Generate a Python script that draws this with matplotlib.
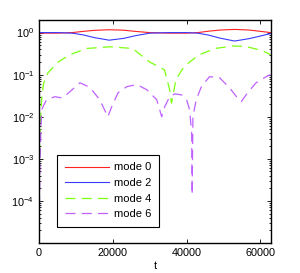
import matplotlib

matplotlib.use("Agg")
import matplotlib.pyplot as plt
from matplotlib.ticker import LogLocator, NullFormatter

plt.rcParams["font.family"] = ["Liberation Sans", "DejaVu Sans"]
plt.rcParams["mathtext.fontset"] = "custom"
plt.rcParams["mathtext.rm"] = "Liberation Sans"

# mode 0 / mode 2 share a time grid
t_low = [0, 5000, 9000, 12000, 15000, 19000, 23000, 26000, 30000, 35000,
         40000, 43000, 46000, 49000, 53000, 57000, 60000, 62832]
mode0 = [0.97, 0.97, 1.0, 1.07, 1.13, 1.17, 1.14, 1.07, 1.0, 0.97,
         0.97, 1.0, 1.08, 1.15, 1.19, 1.15, 1.07, 1.0]
mode2 = [1.0, 1.0, 0.97, 0.88, 0.76, 0.66, 0.73, 0.84, 0.97, 1.0,
         1.0, 0.97, 0.87, 0.74, 0.63, 0.72, 0.83, 0.95]

t4 = [0, 270, 700, 1200, 2400, 5200, 8400, 13000, 19200, 25300, 30000,
      34000, 35400, 35900, 37100, 38700, 40800, 43500, 47800, 52400,
      56000, 60600, 62700]
mode4 = [5e-4, 0.004, 0.025, 0.06, 0.11, 0.2, 0.3, 0.42, 0.46, 0.42, 0.2,
         0.13, 0.044, 0.021, 0.076, 0.13, 0.2, 0.3, 0.42, 0.48,
         0.47, 0.37, 0.3]

t6 = [0, 135, 270, 700, 2000, 4300, 6200, 7000, 11100, 13800, 16500,
      18650, 19700, 21400, 23800, 26500, 29200, 31900, 33250, 34060,
      35400, 36760, 38650, 40000, 40800, 41360, 41500, 41700, 42600,
      44000, 46200, 48900, 51600, 53500, 54800, 56500, 58800, 61550, 62700]
mode6 = [5e-6, 1e-4, 1e-3, 0.0147, 0.025, 0.030, 0.028, 0.031, 0.064,
         0.05, 0.025, 0.01, 0.0173, 0.037, 0.052, 0.058, 0.044, 0.0254,
         0.01, 0.0173, 0.030, 0.035, 0.033, 0.0254, 0.0147, 0.0042,
         1.4e-4, 0.01, 0.0254, 0.052, 0.0896, 0.085, 0.049, 0.03,
         0.0228, 0.037, 0.064, 0.0896, 0.1]

fig = plt.figure(figsize=(3.0, 2.73), dpi=100)
ax = fig.add_axes([0.13, 0.11, 0.773, 0.817])

ax.semilogy(t_low, mode0, color="#ff2020", lw=0.8, label="mode 0")
ax.semilogy(t_low, mode2, color="#3a3aff", lw=0.8, label="mode 2")
ax.semilogy(t4, mode4, color="#7cff10", lw=0.9, ls=(0, (8, 5)),
            label="mode 4")
ax.semilogy(t6, mode6, color="#c060ff", lw=0.9, ls=(0, (8, 5)),
            label="mode 6")

ax.set_xlim(0, 62832)
ax.set_ylim(1e-5, 2)
ax.set_xticks([0, 20000, 40000, 60000])
ax.set_yticks([1e-4, 1e-3, 1e-2, 1e-1, 1])
ax.yaxis.set_minor_locator(LogLocator(base=10, subs=range(2, 10)))
ax.yaxis.set_minor_formatter(NullFormatter())
ax.tick_params(which="both", direction="in", top=True, right=True,
               labelsize=7.8, width=0.6)
ax.tick_params(which="major", length=3)
ax.tick_params(which="minor", length=1.5)
for sp in ax.spines.values():
    sp.set_linewidth(1.0)
ax.set_xlabel("t", fontsize=7.8, labelpad=2)

leg = ax.legend(loc="lower left", bbox_to_anchor=(0.078, 0.072),
                borderaxespad=0, fontsize=8, fancybox=False,
                edgecolor="black", framealpha=1, handlelength=4.0,
                handletextpad=0.4, borderpad=0.7, labelspacing=0.5)
leg.get_frame().set_linewidth(0.8)

fig.savefig("out.png", dpi=100)
